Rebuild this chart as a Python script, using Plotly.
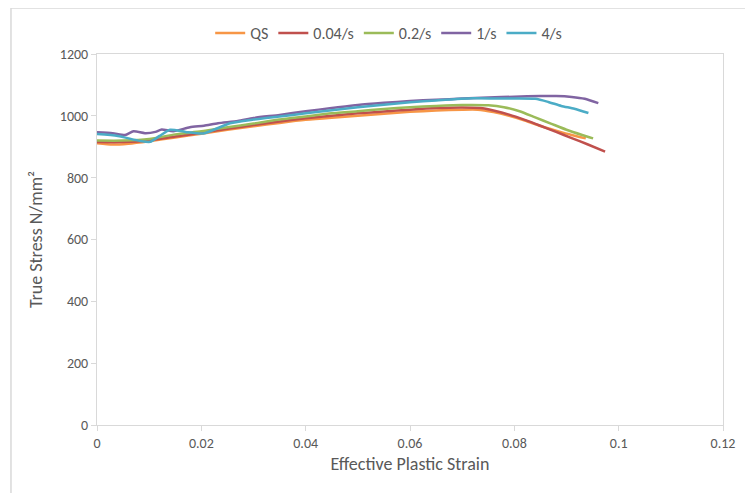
import plotly.graph_objects as go

# ---- data ----
qs_x = [0, 0.003, 0.006, 0.01, 0.015, 0.02, 0.025, 0.03, 0.035, 0.04, 0.045, 0.05, 0.055,
        0.06, 0.065, 0.07, 0.073, 0.076, 0.079, 0.082, 0.085, 0.088, 0.091, 0.0937]
qs_y = [911, 907, 910, 918, 930, 942, 955, 966, 977, 987, 994, 1000, 1007,
        1013, 1017, 1020, 1020, 1012, 1000, 985, 967, 952, 938, 927]

r004_x = [0, 0.005, 0.01, 0.015, 0.02, 0.025, 0.03, 0.035, 0.04, 0.045, 0.05, 0.055,
          0.06, 0.065, 0.07, 0.0735, 0.076, 0.079, 0.082, 0.085, 0.088, 0.091, 0.094, 0.0974]
r004_y = [915, 915, 920, 933, 945, 958, 970, 982, 992, 1000, 1008, 1014,
          1020, 1025, 1027, 1025, 1017, 1004, 987, 968, 948, 928, 908, 884]

r02_x = [0, 0.005, 0.01, 0.015, 0.02, 0.025, 0.03, 0.035, 0.04, 0.045, 0.05, 0.055,
         0.06, 0.065, 0.07, 0.075, 0.078, 0.081, 0.084, 0.087, 0.09, 0.093, 0.0951]
r02_y = [920, 920, 925, 940, 950, 963, 975, 988, 998, 1008, 1015, 1022,
         1028, 1032, 1035, 1034, 1028, 1015, 995, 975, 955, 938, 927]

r1_x = [0, 0.003, 0.0054, 0.007, 0.0092, 0.0112, 0.0124, 0.0146, 0.0178, 0.0205, 0.0232,
        0.027, 0.03, 0.035, 0.04, 0.045, 0.05, 0.055, 0.06, 0.065, 0.07, 0.075, 0.08,
        0.085, 0.088, 0.091, 0.0935, 0.0961]
r1_y = [947, 944, 938, 950, 944, 948, 956, 950, 963, 968, 976,
        983, 993, 1003, 1015, 1025, 1035, 1042, 1048, 1052, 1056, 1059, 1062,
        1064, 1064, 1061, 1055, 1041]

r4_x = [0, 0.004, 0.0082, 0.0102, 0.012, 0.014, 0.017, 0.0204, 0.0255, 0.03, 0.035, 0.04,
        0.045, 0.05, 0.055, 0.06, 0.065, 0.0721, 0.078, 0.084, 0.0865, 0.089, 0.0915, 0.0942]
r4_y = [941, 935, 919, 916, 935, 955, 948, 943, 976, 988, 998, 1008,
        1018, 1028, 1036, 1044, 1050, 1057, 1056, 1055, 1045, 1032, 1023, 1009]

series = [
    ("QS", qs_x, qs_y, "#F79646"),
    ("0.04/s", r004_x, r004_y, "#C0504D"),
    ("0.2/s", r02_x, r02_y, "#9BBB59"),
    ("1/s", r1_x, r1_y, "#8064A2"),
    ("4/s", r4_x, r4_y, "#4BACC6"),
]

x_ticks = [0, 0.02, 0.04, 0.06, 0.08, 0.1, 0.12]
x_tick_labels = ["0", "0.02", "0.04", "0.06", "0.08", "0.1", "0.12"]
y_ticks = [0, 200, 400, 600, 800, 1000, 1200]

FONT = "Carlito, Calibri, Lato, sans-serif"
GRAY = "#595959"
LINE = "#d9d9d9"

fig = go.Figure()
for name, xs, ys, col in series:
    fig.add_trace(go.Scatter(x=xs, y=ys, mode="lines", name=name,
                             line=dict(color=col, width=2.5, shape="spline", smoothing=0.6)))

fig.update_layout(
    width=745, height=485,
    margin=dict(l=89, r=30, t=46, b=68, autoexpand=False),
    paper_bgcolor="white", plot_bgcolor="white",
    font=dict(family=FONT, size=14, color=GRAY),
    legend=dict(orientation="h", xref="container", yref="container",
                x=0.511, xanchor="center", y=0.948, yanchor="middle",
                font=dict(size=16, color=GRAY), bgcolor="rgba(0,0,0,0)"),
    showlegend=True,
    shapes=[dict(type="rect", xref="paper", yref="paper",
                 x0=-0.1374, x1=1.2, y0=-0.4, y1=1.124,
                 line=dict(color=LINE, width=1.5), layer="below")],
)
fig.update_xaxes(range=[0, 0.12], tickvals=x_ticks, ticktext=x_tick_labels, automargin=False,
                 showgrid=False, zeroline=False, showline=True, linecolor=LINE, linewidth=1,
                 mirror=True, ticks="outside", ticklen=5, tickcolor=LINE,
                 tickfont=dict(size=14, color=GRAY),
                 title=dict(text="Effective Plastic Strain", font=dict(size=18, color=GRAY), standoff=6))
fig.update_yaxes(range=[0, 1200], tickvals=y_ticks, automargin=False,
                 showgrid=False, zeroline=False, showline=True, linecolor=LINE, linewidth=1,
                 mirror=True, ticks="outside", ticklen=5, tickcolor=LINE,
                 tickfont=dict(size=14, color=GRAY),
                 title=dict(text="True Stress N/mm²", font=dict(size=18, color=GRAY), standoff=12))

fig.write_html("out.html")
